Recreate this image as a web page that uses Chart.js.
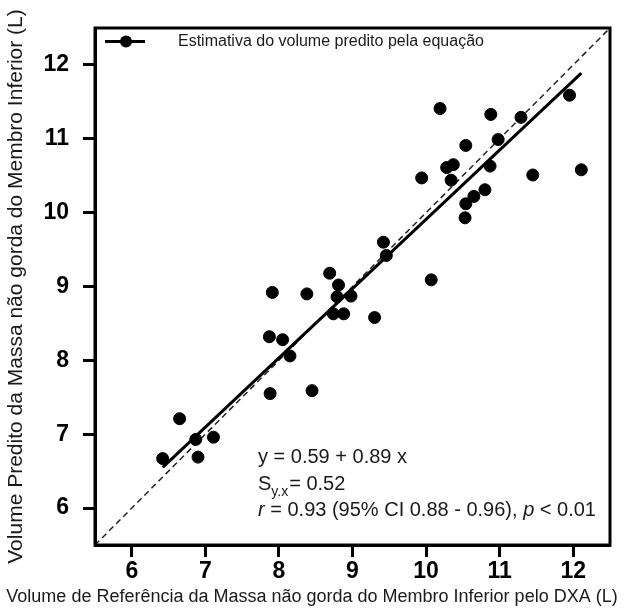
<!DOCTYPE html>
<html>
<head>
<meta charset="utf-8">
<script src="https://cdn.jsdelivr.net/npm/chart.js@4.4.0/dist/chart.umd.min.js"></script>
<style>
  html, body { margin: 0; padding: 0; background: #fff; }
  #wrap { width: 624px; height: 614px; }
</style>
</head>
<body>
<div id="wrap"><canvas id="myChart" width="624" height="614"></canvas></div>
<script>
// volume de referencia (DXA) x volume predito pela equacao, em litros
var refDXA = [6.42, 6.65, 6.87, 7.11, 6.90, 7.88, 8.45, 9.42, 9.46, 8.69,
              7.91, 8.38, 8.81, 8.79, 8.98, 8.74, 8.88, 10.07, 9.30, 7.87,
              8.05, 8.15, 10.19, 10.88, 11.95, 11.29, 10.98, 10.54, 10.37, 10.28,
              10.87, 9.94, 10.34, 11.45, 12.11, 10.80, 10.65, 10.54, 10.53];
var predEq = [6.67, 7.21, 6.93, 6.96, 6.69, 7.55, 7.59, 9.60, 9.42, 9.18,
              8.92, 8.90, 9.02, 8.86, 8.87, 8.63, 8.63, 9.09, 8.58, 8.32,
              8.28, 8.06, 11.41, 11.33, 11.59, 11.29, 10.99, 10.91, 10.65, 10.61,
              10.63, 10.47, 10.44, 10.51, 10.58, 10.31, 10.22, 10.12, 9.93];

// reta de regressao (extremos) e linha de identidade
var fitX = [6.42, 12.11];
var fitY = [6.55, 11.89];
var idLine = [5.5, 12.5];

var xTicks = [6, 7, 8, 9, 10, 11, 12];
var yTicks = [6, 7, 8, 9, 10, 11, 12];

var FONT = "'Liberation Sans', Arial, sans-serif";

function toPts(xs, ys) {
    var out = [];
    for (var i = 0; i < xs.length; i++) out.push({x: xs[i], y: ys[i]});
    return out;
}

// moldura, legenda, equacao e titulo do eixo x
var extras = {
    id: 'extras',
    afterDatasetsDraw: function(chart) {
        var ctx = chart.ctx;
        var a = chart.chartArea;
        ctx.save();
        ctx.strokeStyle = '#000';
        ctx.lineWidth = 3;
        ctx.strokeRect(a.left, a.top, a.right - a.left, a.bottom - a.top);

        // legenda
        var ly = a.top + 13.5;
        ctx.beginPath();
        ctx.moveTo(a.left + 10, ly);
        ctx.lineTo(a.left + 50, ly);
        ctx.stroke();
        ctx.beginPath();
        ctx.arc(a.left + 31, ly, 6, 0, Math.PI * 2);
        ctx.fillStyle = '#000';
        ctx.fill();
        ctx.fillStyle = '#1a1a1a';
        ctx.font = '16px ' + FONT;
        ctx.textBaseline = 'middle';
        ctx.textAlign = 'left';
        ctx.fillText('Estimativa do volume predito pela equação', a.left + 83, ly);

        // equacao
        var tx = 258;
        ctx.textBaseline = 'alphabetic';
        ctx.font = '20px ' + FONT;
        ctx.fillText('y = 0.59 + 0.89 x', tx, 463);
        ctx.fillText('S', tx, 490);
        var w = ctx.measureText('S').width;
        ctx.font = '14px ' + FONT;
        ctx.fillText('y.x', tx + w, 496);
        w += ctx.measureText('y.x').width;
        ctx.font = '20px ' + FONT;
        ctx.fillText('= 0.52', tx + w + 1, 490);
        var parts = [['r', true], [' = 0.93 (95% CI 0.88 - 0.96), ', false], ['p', true], [' < 0.01', false]];
        var x = tx;
        parts.forEach(function(p) {
            ctx.font = (p[1] ? 'italic ' : '') + '20px ' + FONT;
            ctx.fillText(p[0], x, 516);
            x += ctx.measureText(p[0]).width;
        });

        // titulo do eixo x
        ctx.font = '18px ' + FONT;
        ctx.textAlign = 'center';
        ctx.fillText('Volume de Referência da Massa não gorda do Membro Inferior pelo DXA (L)', 312, 602);
        ctx.restore();
    }
};

var axisGrid = {
    drawOnChartArea: false,
    drawTicks: true,
    tickLength: 12,
    tickWidth: 3,
    tickColor: '#000'
};

new Chart(document.getElementById('myChart'), {
    type: 'scatter',
    data: {
        datasets: [{
            data: toPts(refDXA, predEq),
            backgroundColor: '#000',
            borderColor: '#000',
            pointRadius: 6,
            pointHoverRadius: 6,
            order: 0
        }, {
            data: toPts(fitX, fitY),
            showLine: true,
            borderColor: '#000',
            borderWidth: 3,
            pointRadius: 0,
            order: 1
        }, {
            data: toPts(idLine, idLine),
            showLine: true,
            borderColor: '#222',
            borderWidth: 1.5,
            borderDash: [6, 4],
            pointRadius: 0,
            order: 2
        }]
    },
    options: {
        responsive: false,
        animation: false,
        layout: { padding: { top: 28, right: 14, left: 0, bottom: 0 } },
        plugins: {
            legend: { display: false },
            tooltip: { enabled: false }
        },
        scales: {
            x: {
                type: 'linear',
                min: 5.5,
                max: 12.5,
                afterBuildTicks: function(s) { s.ticks = xTicks.map(function(v) { return {value: v}; }); },
                afterFit: function(s) { s.height = 69; },
                ticks: { color: '#000', font: { family: FONT, size: 23, weight: 'bold' }, padding: 1 },
                grid: axisGrid,
                border: { display: true, color: '#000', width: 3 }
            },
            y: {
                type: 'linear',
                min: 5.5,
                max: 12.5,
                afterBuildTicks: function(s) { s.ticks = yTicks.map(function(v) { return {value: v}; }); },
                afterFit: function(s) { s.width = 95; },
                ticks: { color: '#000', font: { family: FONT, size: 23, weight: 'bold' }, padding: 14 },
                grid: axisGrid,
                border: { display: true, color: '#000', width: 3 },
                title: {
                    display: true,
                    text: 'Volume Predito da Massa não gorda do Membro Inferior (L)',
                    color: '#1a1a1a',
                    font: { family: FONT, size: 21 },
                    padding: { top: 4, bottom: 0 }
                }
            }
        }
    },
    plugins: [extras]
});
</script>
</body>
</html>
